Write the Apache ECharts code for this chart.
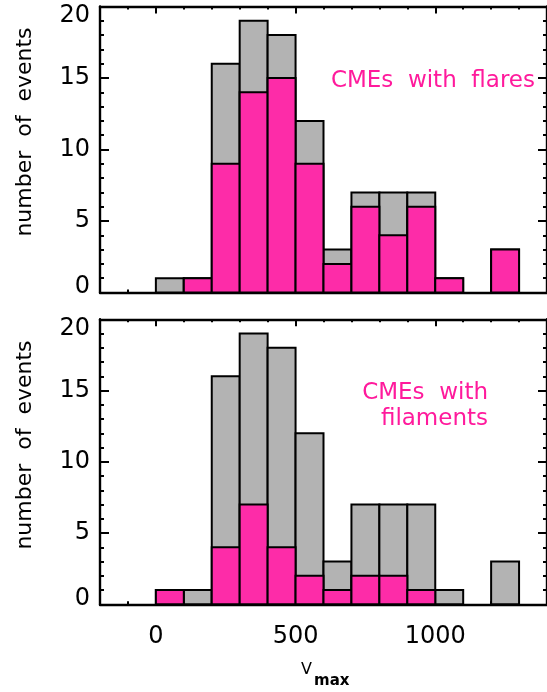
<!DOCTYPE html>
<html>
<head>
<meta charset="utf-8">
<script src="https://cdn.jsdelivr.net/npm/echarts@6/dist/echarts.min.js"></script>
<style>
html,body{margin:0;padding:0;background:#fff;}
#chart{width:547px;height:692px;}
</style>
</head>
<body>
<div id="chart"></div>
<script>
// ---- data ----
const binEdges = [0, 100, 200, 300, 400, 500, 600, 700, 800, 900, 1000, 1100, 1200, 1300];
const flaresAll   = [1, 1, 16, 19, 18, 12, 3, 7, 7, 7, 1, 0, 3];
const flaresPink  = [0, 1, 9, 14, 15, 9, 2, 6, 4, 6, 1, 0, 3];
const filamentsAll  = [1, 1, 16, 19, 18, 12, 3, 7, 7, 7, 1, 0, 3];
const filamentsPink = [1, 0, 4, 7, 4, 2, 1, 2, 2, 1, 0, 0, 0];
const xTickLabels = [0, 500, 1000];
const yTickLabels = [0, 5, 10, 15, 20];
const panelLabels = ['CMEs  with  flares', 'CMEs  with', 'filaments'];
const yTitle = 'number  of  events';

// ---- styles ----
const FONT = '"DejaVu Sans", sans-serif';
const PINK = '#fd2ca8';
const PINK_TXT = '#ff1a9c';
const GREY = '#b3b3b3';
const X_MIN = -200, X_MAX = 1400;

function binData(vals) {
  return vals.map((v, i) => [binEdges[i], binEdges[i + 1], v]);
}

function barSeries(g, vals, color) {
  return {
    type: 'custom',
    xAxisIndex: g * 2,
    yAxisIndex: g * 2,
    data: binData(vals),
    renderItem: function (params, api) {
      const lo = api.value(0), hi = api.value(1), v = api.value(2);
      if (!v) return null;
      const p0 = api.coord([lo, v]);
      const p1 = api.coord([hi, 0]);
      return {
        type: 'rect',
        shape: { x: p0[0], y: p0[1], width: p1[0] - p0[0], height: p1[1] - p0[1] },
        style: { fill: color, stroke: '#000', lineWidth: 2 }
      };
    },
    z: 2
  };
}

const grids = [
  { left: 100, top: 6.5, width: 449.6, height: 286 },
  { left: 100, top: 319.3, width: 449.6, height: 285 }
];
// overlay grids for the major x ticks
const allGrids = grids.concat(grids.map(g => Object.assign({}, g)));

const lineStyle = { color: '#000', width: 2.4 };
const xAxes = [];
const yAxes = [];
[0, 1].forEach(g => {
  const showLabels = g === 1;
  xAxes.push({
    gridIndex: g, type: 'value', min: X_MIN, max: X_MAX, interval: 100, position: 'bottom',
    axisLine: { show: true, onZero: false, lineStyle: lineStyle },
    axisTick: { show: true, inside: true, length: 3, lineStyle: { color: '#000', width: 2 } },
    axisLabel: showLabels ? {
      show: true, customValues: xTickLabels, margin: 20,
      fontFamily: FONT, fontSize: 24, color: '#000',
      formatter: function (v) { return String(v); }
    } : { show: false },
    splitLine: { show: false }
  });
  xAxes.push({
    gridIndex: g, type: 'value', min: X_MIN, max: X_MAX, interval: 100, position: 'top',
    axisLine: { show: true, onZero: false, lineStyle: lineStyle },
    axisTick: { show: true, inside: true, length: 3, lineStyle: { color: '#000', width: 2 } },
    axisLabel: { show: false },
    splitLine: { show: false }
  });
  const yCommon = {
    gridIndex: g, type: 'value', min: 0, max: 20, interval: 5,
    axisLine: { show: true, onZero: false, lineStyle: lineStyle },
    axisTick: { show: true, inside: true, length: 9, lineStyle: { color: '#000', width: 2 } },
    minorTick: { show: true, splitNumber: 5, length: 4, lineStyle: { color: '#000', width: 2 } },
    splitLine: { show: false }
  };
  yAxes.push(Object.assign({}, yCommon, {
    position: 'left',
    axisLabel: {
      show: true, margin: 10, color: '#000', fontFamily: FONT, fontSize: 24,
      formatter: function (v) {
        if (v === yTickLabels[0]) return '{lo|' + v + '}';
        if (v === yTickLabels[yTickLabels.length - 1]) return '{hi|' + v + '}';
        return '{n|' + v + '}';
      },
      rich: {
        lo: { fontFamily: FONT, fontSize: 24, color: '#000', padding: [0, 0, 11, 0] },
        hi: { fontFamily: FONT, fontSize: 24, color: '#000', padding: [19, 0, 0, 0] },
        n: { fontFamily: FONT, fontSize: 24, color: '#000' }
      }
    }
  }));
  yAxes.push(Object.assign({}, yCommon, { position: 'right', axisLabel: { show: false } }));
});
// overlay axes with the long major ticks
[0, 1].forEach(g => {
  ['bottom', 'top'].forEach(pos => {
    xAxes.push({
      gridIndex: g + 2, type: 'value', min: X_MIN, max: X_MAX, position: pos,
      axisLine: { show: false },
      axisTick: { show: true, inside: true, length: 7, customValues: xTickLabels, lineStyle: { color: '#000', width: 2 } },
      axisLabel: { show: false },
      splitLine: { show: false }
    });
  });
  yAxes.push({ gridIndex: g + 2, type: 'value', min: 0, max: 20, show: false });
});

const series = [
  barSeries(0, flaresAll, GREY),
  barSeries(0, flaresPink, PINK),
  barSeries(1, filamentsAll, GREY),
  barSeries(1, filamentsPink, PINK)
];

function txt(text, x, y, opts) {
  return {
    type: 'text', x: x, y: y, z: 10,
    style: Object.assign({
      text: text, fill: '#000', font: '22px ' + FONT, align: 'center', verticalAlign: 'middle'
    }, opts || {})
  };
}

const graphics = [
  Object.assign(txt(yTitle, 25, 132), { rotation: Math.PI / 2 }),
  Object.assign(txt(yTitle, 25, 445), { rotation: Math.PI / 2 }),
  txt(panelLabels[0], 535, 81, { fill: PINK_TXT, font: '23px ' + FONT, align: 'right' }),
  txt(panelLabels[1], 488, 393, { fill: PINK_TXT, font: '23px ' + FONT, align: 'right' }),
  txt(panelLabels[2], 488, 419, { fill: PINK_TXT, font: '23px ' + FONT, align: 'right' }),
  txt('V', 301, 670, { font: '16px ' + FONT, align: 'left' }),
  txt('max', 314, 681, { font: 'bold 15px ' + FONT, align: 'left' })
];

const chart = echarts.init(document.getElementById('chart'), null, { renderer: 'canvas' });
chart.setOption({
  animation: false,
  backgroundColor: '#fff',
  grid: allGrids,
  xAxis: xAxes,
  yAxis: yAxes,
  series: series,
  graphic: graphics
});
</script>
</body>
</html>
